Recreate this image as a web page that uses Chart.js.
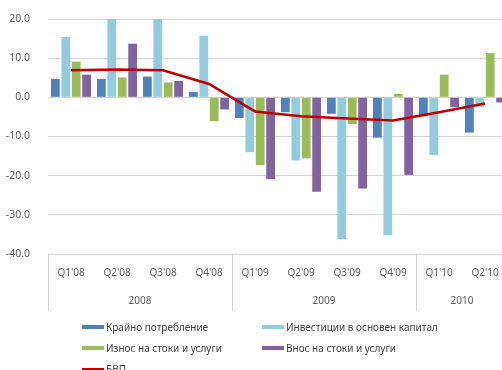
<!DOCTYPE html>
<html>
<head>
<meta charset="utf-8">
<script src="https://cdn.jsdelivr.net/npm/chart.js@4/dist/chart.umd.min.js"></script>
<style>
  html, body { margin: 0; padding: 0; width: 502px; height: 370px; overflow: hidden; background: #fff; }
  #wrap { position: absolute; left: 0; top: 0; width: 520px; height: 320px; }
  #legend { position: absolute; left: 0; top: 0; width: 502px; height: 370px; pointer-events: none;
            font-family: "Noto Sans", sans-serif; font-size: 10px; color: #404040; }
  .item { position: absolute; display: flex; align-items: center; white-space: nowrap; }
  .sw { display: inline-block; width: 22px; height: 4px; margin-right: 2px; }
</style>
</head>
<body>
<div id="wrap"><canvas id="c" width="520" height="320"></canvas></div>
<div id="legend"></div>
<script>
// Quarterly contributions to real GDP growth, %
const quarters = ["Q1'08", "Q2'08", "Q3'08", "Q4'08", "Q1'09", "Q2'09", "Q3'09", "Q4'09", "Q1'10", "Q2'10"];
const years = ["2008", "2009", "2010"];
const quartersPerYear = [4, 4, 2];

const finalConsumption = [4.7, 4.7, 5.3, 1.4, -5.3, -3.8, -4.2, -10.3, -4.8, -9.0];
const fixedInvestment = [15.4, 22.4, 21.0, 15.7, -14.0, -16.1, -36.2, -35.2, -14.7, -2.5];
const exportsGS = [9.1, 5.1, 3.8, -6.1, -17.3, -15.6, -6.8, 0.9, 5.8, 11.3];
const importsGS = [5.8, 13.7, 4.2, -3.1, -20.9, -24.1, -23.3, -19.8, -2.5, -1.3];
const gdp = [6.9, 7.1, 6.9, 3.4, -3.6, -4.8, -5.4, -5.9, -3.8, -1.6];

const yTicks = [20, 10, 0, -10, -20, -30, -40];

const seriesNames = ["Крайно потребление", "Инвестиции в основен капитал", "Износ на стоки и услуги", "Внос на стоки и услуги", "БВП"];
const colors = ["#4F81BD", "#93CDDD", "#9BBB59", "#8064A2", "#C00000"];

const gridColor = "#d4d4d4";
const textColor = "#595959";
const fontFamily = "'Noto Sans', sans-serif";

// Second row of the category axis: year groups with separators
const yearGroups = {
  id: 'yearGroups',
  afterDraw(chart) {
    const x = chart.scales.x;
    const area = chart.chartArea;
    const ctx = chart.ctx;
    const n = quarters.length;
    const w = (x.right - x.left) / n;
    ctx.save();
    ctx.strokeStyle = gridColor;
    ctx.lineWidth = 1;
    ctx.fillStyle = textColor;
    ctx.font = "10px " + fontFamily;
    ctx.textAlign = "center";
    ctx.textBaseline = "middle";
    let start = 0;
    const bottom = area.bottom + 57;
    for (let g = 0; g < years.length; g++) {
      const x0 = x.left + start * w;
      const x1 = x0 + quartersPerYear[g] * w;
      const px = Math.round(x0) + 0.5;
      ctx.beginPath();
      ctx.moveTo(px, area.bottom);
      ctx.lineTo(px, bottom);
      ctx.stroke();
      ctx.fillText(years[g], (x0 + x1) / 2, area.bottom + 47);
      start += quartersPerYear[g];
    }
    const pr = Math.round(x.right) + 0.5;
    ctx.beginPath();
    ctx.moveTo(pr, area.bottom);
    ctx.lineTo(pr, bottom);
    ctx.stroke();
    ctx.restore();
  }
};

const barSets = [finalConsumption, fixedInvestment, exportsGS, importsGS].map((d, i) => ({
  type: 'bar',
  label: seriesNames[i],
  data: d,
  backgroundColor: colors[i],
  borderWidth: 0,
  categoryPercentage: 0.905,
  barPercentage: 0.84,
  order: 2
}));

const chart = new Chart(document.getElementById('c'), {
  data: {
    labels: quarters,
    datasets: [
      ...barSets,
      {
        type: 'line',
        label: seriesNames[4],
        data: gdp,
        borderColor: colors[4],
        backgroundColor: colors[4],
        borderWidth: 2.5,
        pointRadius: 0,
        tension: 0,
        order: 1
      }
    ]
  },
  options: {
    responsive: false,
    animation: false,
    devicePixelRatio: 1,
    layout: { padding: { left: 0, right: 12, top: 19, bottom: 6 } },
    plugins: { legend: { display: false }, tooltip: { enabled: false } },
    scales: {
      x: {
        grid: { display: false, drawTicks: false },
        border: { display: true, color: gridColor },
        ticks: { color: textColor, font: { family: fontFamily, size: 10 }, padding: 13, maxRotation: 0, autoSkip: false },
        afterFit(scale) { scale.height = 60; }
      },
      y: {
        min: -40,
        max: 20,
        afterBuildTicks(scale) { scale.ticks = yTicks.map(v => ({ value: v })); },
        grid: { color: gridColor, drawTicks: true, tickLength: 15, tickColor: 'rgba(0,0,0,0)' },
        border: { display: false },
        ticks: {
          color: textColor,
          font: { family: fontFamily, size: 10.5 },
          padding: 3,
          callback: v => v.toFixed(1)
        },
        afterFit(scale) { scale.width = 48; }
      }
    }
  },
  plugins: [yearGroups]
});

// Legend laid out in two columns below the chart
const legendPos = [[82, 327], [262, 327], [82, 348], [262, 348], [82, 369]];
const legend = document.getElementById('legend');
chart.data.datasets.forEach((ds, i) => {
  const item = document.createElement('div');
  item.className = 'item';
  item.style.left = legendPos[i][0] + 'px';
  item.style.top = (legendPos[i][1] - 8) + 'px';
  item.style.height = '16px';
  const sw = document.createElement('span');
  sw.className = 'sw';
  sw.style.background = ds.type === 'line' ? ds.borderColor : ds.backgroundColor;
  if (ds.type === 'line') sw.style.height = '2px';
  const t = document.createElement('span');
  t.textContent = ds.label;
  item.appendChild(sw);
  item.appendChild(t);
  legend.appendChild(item);
});
</script>
</body>
</html>
